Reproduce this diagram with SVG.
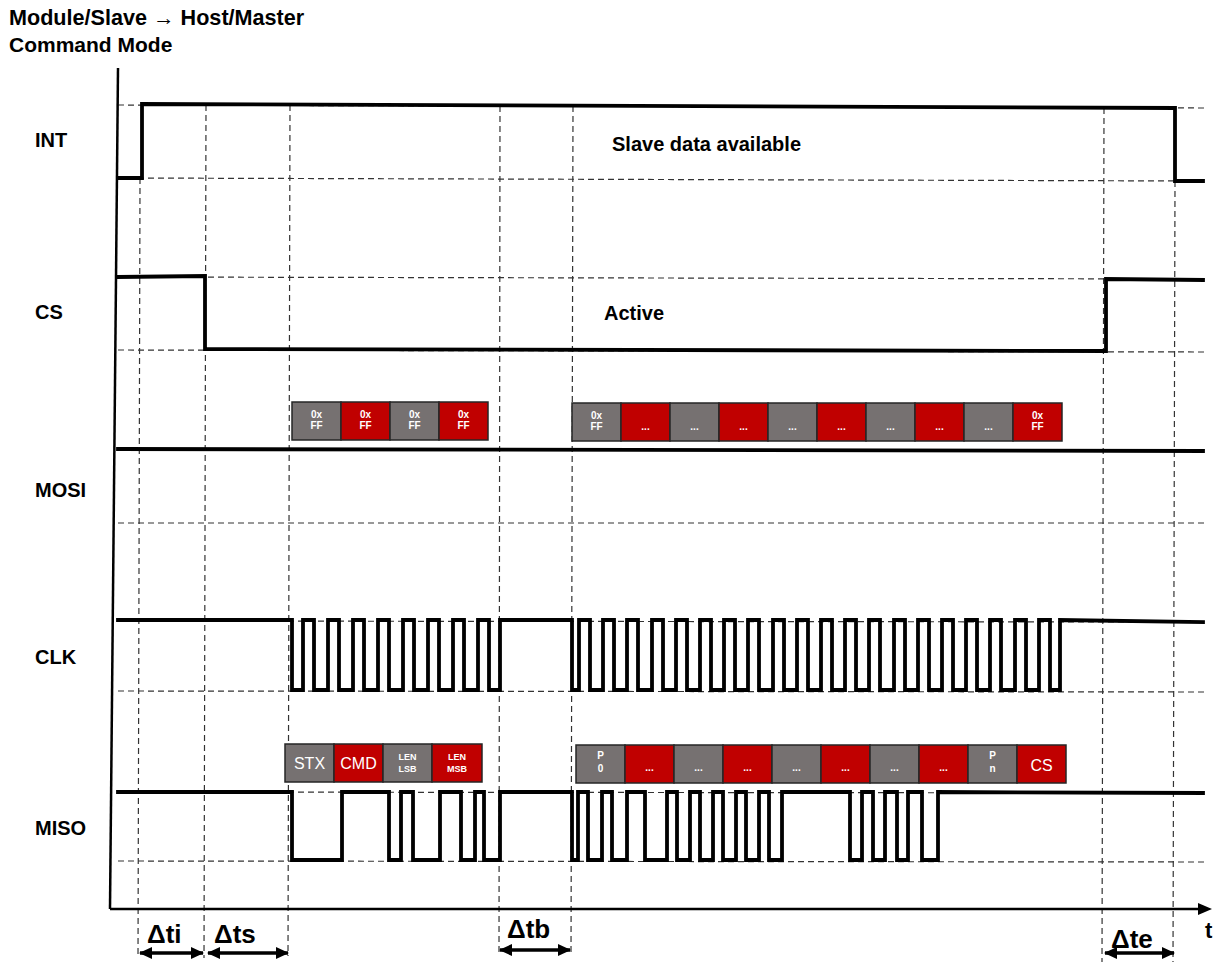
<svg xmlns="http://www.w3.org/2000/svg" width="1220" height="965" viewBox="0 0 1220 965">
<style>
.grid{stroke:#333;stroke-width:1.2;stroke-dasharray:6 4;fill:none}
.wave{stroke:#000;stroke-width:3.8;fill:none;stroke-linejoin:miter;stroke-linecap:square}
.axis{stroke:#000;stroke-width:2.5;fill:none}
.lbl{font-family:"Liberation Sans",Arial,sans-serif;font-weight:bold;font-size:20px;fill:#000}
.dl{font-family:"Liberation Sans",Arial,sans-serif;font-weight:bold;font-size:26px;fill:#000}
.gb{fill:#767171;stroke:#262626;stroke-width:1.5}
.rb{fill:#C00000;stroke:#262626;stroke-width:1.5}
.bt{font-family:"Liberation Sans",Arial,sans-serif;font-weight:bold;font-size:10px;fill:#fff;text-anchor:middle}
.bb{font-family:"Liberation Sans",Arial,sans-serif;font-size:16px;fill:#fff;text-anchor:middle}
.tarr{stroke:#000;stroke-width:3.5;fill:none;marker-start:url(#ah);marker-end:url(#ah)}
</style>
<defs>
<marker id="ah" markerUnits="userSpaceOnUse" markerWidth="13" markerHeight="12" refX="12" refY="6" orient="auto-start-reverse"><path d="M0,0 L13,6 L0,12 z" fill="#000"/></marker>
<marker id="ax" markerUnits="userSpaceOnUse" markerWidth="14" markerHeight="12" refX="2" refY="6" orient="auto"><path d="M0,0 L14,6 L0,12 z" fill="#000"/></marker>
</defs>
<rect width="1220" height="965" fill="#fff"/>

<g id="title">
<text class="lbl" x="9" y="25" style="font-size:21.6px">Module/Slave → Host/Master</text>
<text class="lbl" x="9" y="52" style="font-size:21px">Command Mode</text>
</g>

<g id="grid">
<line class="grid" x1="118" y1="105" x2="1204" y2="108"/>
<line class="grid" x1="118" y1="178" x2="1204" y2="181"/>
<line class="grid" x1="118" y1="277" x2="1204" y2="279"/>
<line class="grid" x1="118" y1="350" x2="1204" y2="352"/>
<line class="grid" x1="118" y1="523" x2="1204" y2="523"/>
<line class="grid" x1="118" y1="621" x2="1204" y2="622"/>
<line class="grid" x1="118" y1="691" x2="1204" y2="692"/>
<line class="grid" x1="118" y1="792" x2="1204" y2="793"/>
<line class="grid" x1="118" y1="861" x2="1204" y2="862"/>
<line class="grid" x1="140" y1="178" x2="138" y2="958"/>
<line class="grid" x1="206" y1="105" x2="204" y2="958"/>
<line class="grid" x1="290" y1="105" x2="288" y2="956"/>
<line class="grid" x1="500" y1="106" x2="499" y2="956"/>
<line class="grid" x1="573" y1="106" x2="571" y2="956"/>
<line class="grid" x1="1104" y1="108" x2="1102" y2="962"/>
<line class="grid" x1="1175" y1="181" x2="1173" y2="962"/>
</g>

<g id="axes">
<line class="axis" x1="118" y1="68" x2="110" y2="909"/>
<line class="axis" x1="110" y1="909" x2="1200" y2="909" marker-end="url(#ax)"/>
<text class="dl" x="1205" y="938" style="font-size:22px">t</text>
</g>

<g id="sig-int">
<text class="lbl" x="35" y="147">INT</text>
<path class="wave" d="M118,178 H142 V104 L1175,108 V181 H1203"/>
<text class="lbl" x="612" y="151">Slave data available</text>
</g>

<g id="sig-cs">
<text class="lbl" x="35" y="319">CS</text>
<path class="wave" d="M118,277 L205,276 V349 L1106,351 V279 L1203,280"/>
<text class="lbl" x="604" y="320">Active</text>
</g>

<g id="sig-mosi">
<text class="lbl" x="35" y="497">MOSI</text>
<path class="wave" d="M118,449 L1203,451"/>
<rect class="gb" x="292" y="402" width="49" height="38"/>
<rect class="rb" x="341" y="402" width="49" height="38"/>
<rect class="gb" x="390" y="402" width="49" height="38"/>
<rect class="rb" x="439" y="402" width="49" height="38"/>
<text class="bt" x="316.5" y="418">0x<tspan x="316.5" y="429">FF</tspan></text>
<text class="bt" x="365.5" y="418">0x<tspan x="365.5" y="429">FF</tspan></text>
<text class="bt" x="414.5" y="418">0x<tspan x="414.5" y="429">FF</tspan></text>
<text class="bt" x="463.5" y="418">0x<tspan x="463.5" y="429">FF</tspan></text>
<rect class="gb" x="572" y="403" width="49" height="38"/>
<rect class="rb" x="621" y="403" width="49" height="38"/>
<rect class="gb" x="670" y="403" width="49" height="38"/>
<rect class="rb" x="719" y="403" width="49" height="38"/>
<rect class="gb" x="768" y="403" width="49" height="38"/>
<rect class="rb" x="817" y="403" width="49" height="38"/>
<rect class="gb" x="866" y="403" width="49" height="38"/>
<rect class="rb" x="915" y="403" width="49" height="38"/>
<rect class="gb" x="964" y="403" width="49" height="38"/>
<rect class="rb" x="1013" y="403" width="49" height="38"/>
<text class="bt" x="596.5" y="419">0x<tspan x="596.5" y="430">FF</tspan></text>
<text class="bt" x="645.5" y="430">...</text>
<text class="bt" x="694.5" y="430">...</text>
<text class="bt" x="743.5" y="430">...</text>
<text class="bt" x="792.5" y="430">...</text>
<text class="bt" x="841.5" y="430">...</text>
<text class="bt" x="890.5" y="430">...</text>
<text class="bt" x="939.5" y="430">...</text>
<text class="bt" x="988.5" y="430">...</text>
<text class="bt" x="1037.5" y="419">0x<tspan x="1037.5" y="430">FF</tspan></text>
</g>

<g id="sig-clk">
<text class="lbl" x="35" y="664">CLK</text>
<path class="wave" d="M118,620 H292 V690 H303 V620 H314 V690 H328 V620 H339 V690 H353 V620 H364 V690 H378 V620 H389 V690 H403 V620 H414 V690 H428 V620 H439 V690 H453 V620 H464 V690 H478 V620 H489 V690 H500 V620 H572 V690 H579 V620 H590 V690 H603 V620 H614 V690 H627 V620 H638 V690 H652 V620 H663 V690 H676 V620 H687 V690 H700 V620 H711 V690 H724 V620 H735 V690 H748 V620 H759 V690 H773 V620 H784 V690 H797 V620 H808 V690 H821 V620 H832 V690 H845 V620 H856 V690 H869 V620 H880 V690 H894 V620 H905 V690 H918 V620 H929 V690 H942 V620 H953 V690 H966 V620 H977 V690 H990 V620 H1001 V690 H1015 V620 H1026 V690 H1039 V620 H1050 V690 H1060 V620 L1203,622"/>
</g>

<g id="sig-miso">
<text class="lbl" x="35" y="835">MISO</text>
<path class="wave" d="M118,792 H292 V860 H342 V792 H389 V860 H401 V792 H413 V860 H440 V792 H461 V860 H475 V792 H484 V860 H500 V792 H572 V860 H578 V792 H588 V860 H602 V792 H612 V860 H627 V792 H645 V860 H667 V792 H677 V860 H690 V792 H700 V860 H713 V792 H723 V860 H736 V792 H746 V860 H759 V792 H769 V860 H782 V792 H850 V860 H862 V792 H873 V860 H885 V792 H897 V860 H908 V792 H922 V860 H938 V792 L1203,793"/>
<rect class="gb" x="285" y="744" width="49" height="38"/>
<rect class="rb" x="334" y="744" width="49" height="38"/>
<rect class="gb" x="383" y="744" width="49" height="38"/>
<rect class="rb" x="432" y="744" width="50" height="38"/>
<text class="bb" x="309.5" y="769">STX</text>
<text class="bb" x="358.5" y="769">CMD</text>
<text class="bt" x="407.5" y="760" style="font-size:9px">LEN<tspan x="407.5" y="772">LSB</tspan></text>
<text class="bt" x="457" y="760" style="font-size:9px">LEN<tspan x="457" y="772">MSB</tspan></text>
<rect class="gb" x="576" y="745" width="49" height="38"/>
<rect class="rb" x="625" y="745" width="49" height="38"/>
<rect class="gb" x="674" y="745" width="49" height="38"/>
<rect class="rb" x="723" y="745" width="49" height="38"/>
<rect class="gb" x="772" y="745" width="49" height="38"/>
<rect class="rb" x="821" y="745" width="49" height="38"/>
<rect class="gb" x="870" y="745" width="49" height="38"/>
<rect class="rb" x="919" y="745" width="49" height="38"/>
<rect class="gb" x="968" y="745" width="49" height="38"/>
<rect class="rb" x="1017" y="745" width="49" height="38"/>
<text class="bt" x="600.5" y="759">P<tspan x="600.5" y="772">0</tspan></text>
<text class="bt" x="649.5" y="771">...</text>
<text class="bt" x="698.5" y="771">...</text>
<text class="bt" x="747.5" y="771">...</text>
<text class="bt" x="796.5" y="771">...</text>
<text class="bt" x="845.5" y="771">...</text>
<text class="bt" x="894.5" y="771">...</text>
<text class="bt" x="943.5" y="771">...</text>
<text class="bt" x="992.5" y="759">P<tspan x="992.5" y="772">n</tspan></text>
<text class="bb" x="1041.5" y="771">CS</text>
</g>

<g id="connectors">
<line class="tarr" x1="140" y1="953" x2="203" y2="953"/>
<line class="tarr" x1="208" y1="953" x2="288" y2="953"/>
<line class="tarr" x1="500" y1="950" x2="570" y2="950"/>
<line class="tarr" x1="1105" y1="953" x2="1174" y2="953"/>
<text class="dl" x="147" y="943">Δti</text>
<text class="dl" x="214" y="943">Δts</text>
<text class="dl" x="507" y="938">Δtb</text>
<text class="dl" x="1111" y="948">Δte</text>
</g>
</svg>
